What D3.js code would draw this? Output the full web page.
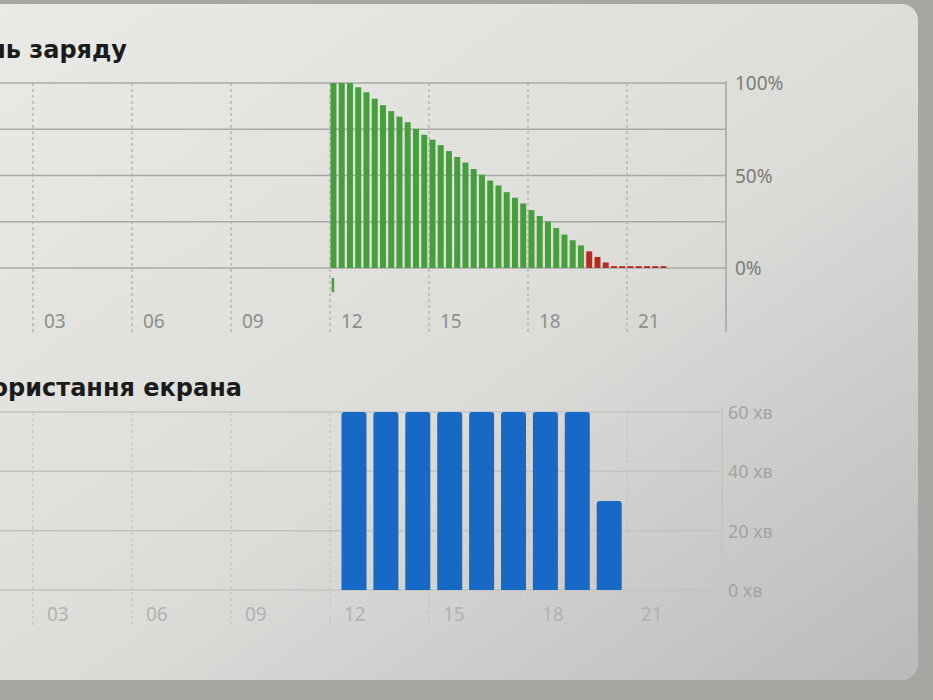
<!DOCTYPE html>
<html><head><meta charset="utf-8">
<script src="https://cdn.jsdelivr.net/npm/d3@7"></script>
<style>html,body{margin:0;padding:0;background:#a9a9a5;overflow:hidden}</style>
</head><body>
<svg id="c" width="933" height="700"></svg>
<script>
// ---- data ----
const hourTicks = [3, 6, 9, 12, 15, 18, 21];
const hourLabels = ["03", "06", "09", "12", "15", "18", "21"];
const batteryStartHour = 12;          // first 15-min slot
const batteryGreen = [100,100,100,97.7,95,91.5,88,84.8,81.8,78.8,75.2,72,69.4,66.4,63.2,60,57,53.5,50.4,47.3,44.6,41,38,34.9,31.3,28.1,25.1,21.6,18,15,12.2];
const batteryRed = [9,6,3,1,1,1,1,1,1,1];
const chargingHours = [12.05];
const batteryTicks = [0, 50, 100];
const batteryTickLabels = ["0%", "50%", "100%"];
const batteryGrid = [0, 25, 50, 75, 100];
const screenHours = [12,13,14,15,16,17,18,19,20];
const screenMinutes = [60,60,60,60,60,60,60,60,30];
const screenTicks = [0, 20, 40, 60];
const screenTickLabels = ["0 хв", "20 хв", "40 хв", "60 хв"];
const title1 = "Рівень заряду";
const title2 = "Використання екрана";

const svg = d3.select("#c");
const defs = svg.append("defs");
const g = defs.append("linearGradient").attr("id","bg").attr("x1","0").attr("y1","0").attr("x2","1").attr("y2","1");
g.append("stop").attr("offset","0%").attr("stop-color","#eaeae7");
g.append("stop").attr("offset","55%").attr("stop-color","#dcdcd9");
g.append("stop").attr("offset","100%").attr("stop-color","#bababa");
svg.append("rect").attr("x",0).attr("y",0).attr("width",933).attr("height",700).attr("fill","#a6a6a2");
svg.append("rect").attr("x",-30).attr("y",4).attr("width",948).attr("height",676).attr("rx",16).attr("fill","url(#bg)");

const font = "'Noto Sans', 'DejaVu Sans', sans-serif";
const tfont = "'DejaVu Sans', sans-serif";
const x = d3.scaleLinear().domain([0, 24]).range([-66, 726]);

// ---- top chart: battery ----
const y1 = d3.scaleLinear().domain([0, 100]).range([268, 83]);
const gTop = svg.append("g");
gTop.append("text").attr("x",127).attr("y",58).attr("text-anchor","end")
  .attr("font-family",tfont).attr("font-weight",700).attr("font-size",24).attr("fill","#1b1b1b").text(title1);

gTop.selectAll("line.hg").data(batteryGrid).join("line").attr("class","hg")
  .attr("x1",0).attr("x2",x(24)).attr("y1",d=>y1(d)).attr("y2",d=>y1(d))
  .attr("stroke","#a8a8a6").attr("stroke-width",1.6);
gTop.selectAll("line.vg").data(hourTicks).join("line").attr("class","vg")
  .attr("x1",d=>x(d)).attr("x2",d=>x(d)).attr("y1",y1(100)).attr("y2",332)
  .attr("stroke","#b0b0ae").attr("stroke-width",1.3).attr("stroke-dasharray","3,3");
gTop.append("line").attr("x1",x(24)).attr("x2",x(24)).attr("y1",y1(100)-2).attr("y2",332)
  .attr("stroke","#a8a8a6").attr("stroke-width",1.6);

const slot = x(0.25) - x(0);
const allBattery = batteryGreen.map((v,i)=>({v, i, c:"#45a03c"}))
  .concat(batteryRed.map((v,j)=>({v, i:batteryGreen.length+j, c:"#b8291f"})));
gTop.selectAll("rect.b").data(allBattery).join("rect").attr("class","b")
  .attr("x",d=>x(batteryStartHour + d.i*0.25)+0.5)
  .attr("width",slot-2.3)
  .attr("y",d=>y1(d.v)).attr("height",d=>y1(0)-y1(d.v)).attr("fill",d=>d.c);
gTop.selectAll("rect.ch").data(chargingHours).join("rect").attr("class","ch")
  .attr("x",d=>x(d)).attr("width",2.5).attr("y",278).attr("height",14).attr("fill","#45a03c");

gTop.selectAll("text.xl").data(hourTicks).join("text").attr("class","xl")
  .attr("x",d=>x(d)+11).attr("y",328).attr("font-family",font).attr("font-size",19)
  .attr("fill","#8e8e8c").text((d,i)=>hourLabels[i]);
gTop.selectAll("text.yl").data(batteryTicks).join("text").attr("class","yl")
  .attr("x",x(24)+9).attr("y",d=>y1(d)+7).attr("font-family",font).attr("font-size",19)
  .attr("fill","#7c7c7a").text((d,i)=>batteryTickLabels[i]);

// ---- bottom chart: screen usage ----
const y2 = d3.scaleLinear().domain([0, 60]).range([590, 412]);
const gBot = svg.append("g");
gBot.append("text").attr("x",242).attr("y",396).attr("text-anchor","end")
  .attr("font-family",tfont).attr("font-weight",700).attr("font-size",24).attr("fill","#1b1b1b").text(title2);
const xr = 722;
gBot.selectAll("line.hg").data(screenTicks).join("line").attr("class","hg")
  .attr("x1",0).attr("x2",xr).attr("y1",d=>y2(d)).attr("y2",d=>y2(d))
  .attr("stroke","#c3c3c1").attr("stroke-width",1.5);
gBot.selectAll("line.vg").data(hourTicks).join("line").attr("class","vg")
  .attr("x1",d=>x(d)).attr("x2",d=>x(d)).attr("y1",y2(60)).attr("y2",628)
  .attr("stroke","#c6c6c4").attr("stroke-width",1.3).attr("stroke-dasharray","3,3");
gBot.append("line").attr("x1",xr).attr("x2",xr).attr("y1",y2(60)-4).attr("y2",602)
  .attr("stroke","#c3c3c1").attr("stroke-width",1.5);

const bw = 25;
gBot.selectAll("path.sb").data(screenHours.map((h,i)=>({h, v:screenMinutes[i]}))).join("path").attr("class","sb")
  .attr("d",d=>{
    const cx = x(d.h) + 24 - (d.h-12)*1.1, x0 = cx - bw/2, x1 = cx + bw/2;
    const yt = y2(d.v), yb = y2(0), r = 3;
    return `M${x0},${yb}V${yt+r}Q${x0},${yt} ${x0+r},${yt}H${x1-r}Q${x1},${yt} ${x1},${yt+r}V${yb}Z`;
  }).attr("fill","#1769c6");

gBot.selectAll("text.xl").data(hourTicks).join("text").attr("class","xl")
  .attr("x",d=>x(d)+14).attr("y",621).attr("font-family",font).attr("font-size",19)
  .attr("fill","#b2b2b0").text((d,i)=>hourLabels[i]);
gBot.selectAll("text.yl").data(screenTicks).join("text").attr("class","yl")
  .attr("x",xr+6).attr("y",d=>y2(d)+7).attr("font-family",font).attr("font-size",18)
  .attr("fill","#a3a3a1").text((d,i)=>screenTickLabels[i]);
</script>
</body></html>
